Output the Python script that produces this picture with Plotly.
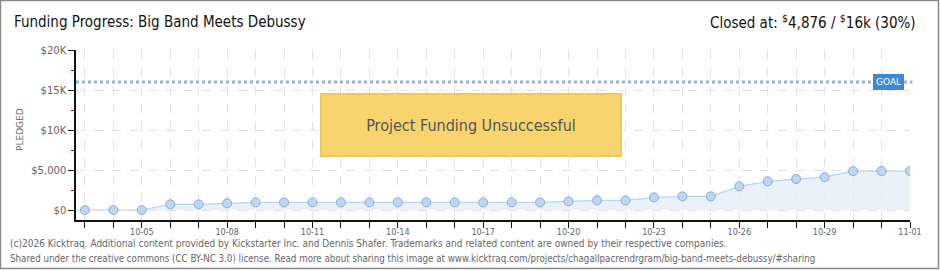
import plotly.graph_objects as go

dates = ["2015-10-03", "2015-10-04", "2015-10-05", "2015-10-06", "2015-10-07", "2015-10-08",
         "2015-10-09", "2015-10-10", "2015-10-11", "2015-10-12", "2015-10-13", "2015-10-14",
         "2015-10-15", "2015-10-16", "2015-10-17", "2015-10-18", "2015-10-19", "2015-10-20",
         "2015-10-21", "2015-10-22", "2015-10-23", "2015-10-24", "2015-10-25", "2015-10-26",
         "2015-10-27", "2015-10-28", "2015-10-29", "2015-10-30", "2015-10-31", "2015-11-01"]
pledged = [0, 0, 0, 710, 710, 830, 950, 950, 950, 950, 950, 950, 950, 950, 950, 950, 950,
           1080, 1200, 1200, 1580, 1710, 1710, 2960, 3580, 3870, 4120, 4870, 4870, 4876]
goal = 16000
y_tickvals = [0, 5000, 10000, 15000, 20000]
y_ticktext = ["$0", "$5,000", "$10K", "$15K", "$20K"]

W, H = 940, 270
ML, MR, MT, MB = 76, 30, 50, 50
PW, PH = W - ML - MR, H - MT - MB

def px(x):
    return (x - ML) / PW

def py(y):
    return (H - MB - y) / PH

fig = go.Figure()
fig.add_trace(go.Scatter(
    x=dates, y=pledged, mode="lines+markers",
    line=dict(color="#b8d4f0", width=1.2),
    fill="tozeroy", fillcolor="rgba(225,237,250,0.75)",
    marker=dict(size=9, color="#bcd6f4", line=dict(color="#8fabd0", width=1)),
    hoverinfo="skip", showlegend=False,
))

fig.add_shape(type="line", xref="paper", yref="y", x0=0, x1=1.003, y0=goal, y1=goal,
              line=dict(color="#93b3dc", width=3, dash="dot"))

# border
fig.add_shape(type="rect", xref="paper", yref="paper",
              x0=px(0.5), x1=px(938.5), y0=py(0.5), y1=py(268.5),
              line=dict(color="#8a8a8a", width=1.5), fillcolor="rgba(0,0,0,0)", layer="above")

fig.update_layout(
    width=W, height=H, margin=dict(l=ML, r=MR, t=MT, b=MB),
    paper_bgcolor="white", plot_bgcolor="white",
    font=dict(family="DejaVu Sans", color="#666"),
    hovermode=False,
    xaxis=dict(
        type="date", range=["2015-10-02 16:30", "2015-11-01 00:00"],
        tick0="2015-10-05", dtick=3 * 86400000, tickformat="%m-%d",
        ticks="outside", ticklen=6, tickcolor="#111", tickwidth=1.2,
        ticklabelstandoff=-4,
        showline=True, linecolor="#111", linewidth=1.5,
        showgrid=True, gridcolor="#e2e2e2", griddash="dash", gridwidth=1,
        tickfont=dict(size=9, color="#666", family="DejaVu Sans Condensed, DejaVu Sans"),
        minor=dict(dtick=86400000, tick0="2015-10-03", ticks="outside", ticklen=6,
                   tickcolor="#111", showgrid=True, gridcolor="#e2e2e2", griddash="dash"),
        zeroline=False,
    ),
    yaxis=dict(
        range=[-1250, 20000], tickvals=y_tickvals, ticktext=y_ticktext,
        ticks="outside", ticklen=6, tickcolor="#111", tickwidth=1.2,
        showline=True, linecolor="#111", linewidth=1.5,
        showgrid=True, gridcolor="#e2e2e2", griddash="dash",
        tickfont=dict(size=10, color="#666"),
        minor=dict(dtick=2500, tick0=0, ticks="outside", ticklen=3, tickcolor="#e00000", showgrid=False),
        zeroline=False,
    ),
)

annos = [
    dict(text="Funding Progress: Big Band Meets Debussy", x=px(12), y=py(22), xanchor="left",
         yanchor="middle", font=dict(size=15, color="#111", family="DejaVu Sans Condensed, DejaVu Sans")),
    dict(text="Closed at: <sup>$</sup>4,876 / <sup>$</sup>16k (30%)", x=px(918), y=py(22), xanchor="right",
         yanchor="middle", font=dict(size=15, color="#111", family="DejaVu Sans Condensed, DejaVu Sans")),
    dict(text="PLEDGED", x=px(20), y=py(130), textangle=-90, xanchor="center", yanchor="middle",
         font=dict(size=9, color="#666")),
    dict(text="GOAL", x=px(888), y=py(82), xanchor="center", yanchor="middle",
         bgcolor="#3f88d8", bordercolor="#3f88d8", borderpad=2,
         font=dict(size=9, color="white")),
    dict(text="Project Funding Unsuccessful", x=px(471), y=py(125), xanchor="center", yanchor="middle",
         width=296, height=58, bgcolor="#f7d46e", bordercolor="#f0c85c", borderwidth=2,
         font=dict(size=16, color="#555", family="DejaVu Sans Condensed, DejaVu Sans")),
    dict(text="(c)2026 Kicktraq. Additional content provided by Kickstarter Inc. and Dennis Shafer. Trademarks and related content are owned by their respective companies.",
         x=px(8), y=py(243), xanchor="left", yanchor="middle",
         font=dict(size=10, color="#666", family="DejaVu Sans Condensed, DejaVu Sans")),
    dict(text="Shared under the creative commons (CC BY-NC 3.0) license. Read more about sharing this image at www.kicktraq.com/projects/chagallpacrendrgram/big-band-meets-debussy/#sharing",
         x=px(8), y=py(258), xanchor="left", yanchor="middle",
         font=dict(size=9.7, color="#666", family="DejaVu Sans Condensed, DejaVu Sans")),
]
for a in annos:
    a.setdefault("xref", "paper")
    a.setdefault("yref", "paper")
    a["showarrow"] = False
    fig.add_annotation(**a)

fig.write_html("out.html", config={"displayModeBar": False})
